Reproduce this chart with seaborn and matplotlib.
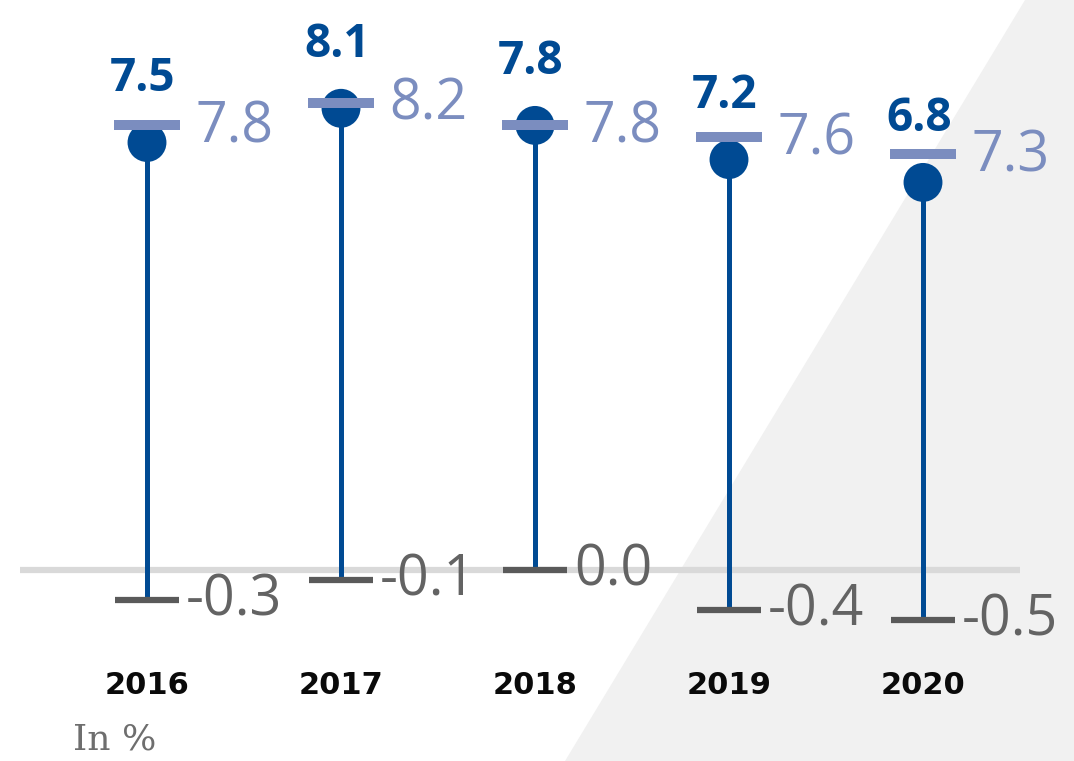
import numpy as np
import pandas as pd
import matplotlib
matplotlib.use("Agg")
import matplotlib.pyplot as plt
import seaborn as sns
from matplotlib.patches import Polygon
import matplotlib.transforms as mtransforms

years = ["2016", "2017", "2018", "2019", "2020"]
actual = [7.5, 8.1, 7.8, 7.2, 6.8]
forecast = [7.8, 8.2, 7.8, 7.6, 7.3]
lower = [-0.3, -0.1, 0.0, -0.4, -0.5]

DARK = "#004A93"
LIGHT = "#7B8DBF"
GREY = "#5A5A5A"
GREY_TXT = "#636363"

sns.set_theme(style="white")
plt.rcParams["font.family"] = ["Open Sans", "DejaVu Sans"]

fig = plt.figure(figsize=(10.74, 7.61), dpi=100)
fig.patch.set_facecolor("white")
fig.patches.append(Polygon([(565/1074, 0), (1025/1074, 1), (1, 1), (1, 0)],
                           closed=True, transform=fig.transFigure,
                           facecolor="#F1F1F1", edgecolor="none", zorder=-5))
ax = fig.add_axes([0, 0, 1, 1])
ax.set_facecolor("none")
ax.patch.set_alpha(0)

k = 1.75
def fwd(v):
    v = np.asarray(v, dtype=float)
    return np.where(v >= 0, v, k * v)
def inv(v):
    v = np.asarray(v, dtype=float)
    return np.where(v >= 0, v, v / k)
ax.set_yscale("function", functions=(fwd, inv))

x = np.arange(len(years))
df = pd.DataFrame({"x": x, "actual": actual, "forecast": forecast, "lower": lower})

ax.hlines(0, -0.655, 4.5, color="#D9D9D9", lw=4.5, zorder=1)
ax.vlines(df["x"], df["lower"], df["actual"], color=DARK, lw=3.6, zorder=2)
ax.plot(df["x"], df["lower"], ls="none", marker="_", ms=46, mew=4.5, color=GREY, zorder=3)
sns.scatterplot(data=df, x="x", y="actual", ax=ax, s=28**2, color=DARK,
                edgecolor="none", zorder=4, legend=False)
ax.plot(df["x"], df["forecast"], ls="none", marker="_", ms=47, mew=7.2, color=LIGHT, zorder=5)

for xi, a, f, lo in zip(x, actual, forecast, lower):
    ax.annotate(f"{a:.1f}", (xi, a), xytext=(-3, 29), textcoords="offset points",
                ha="center", va="bottom", fontsize=33, fontweight="bold", color=DARK)
    ax.annotate(f"{f:.1f}", (xi, f), xytext=(35, -2), textcoords="offset points",
                ha="left", va="center", fontsize=40, color=LIGHT)
    ax.annotate(f"{lo:.1f}", (xi, lo), xytext=(28, -1), textcoords="offset points",
                ha="left", va="center", fontsize=40, color=GREY_TXT)

trans = mtransforms.blended_transform_factory(ax.transData, ax.transAxes)
for xi, yr in zip(x, years):
    ax.text(xi, 1 - 685/761, yr, transform=trans, ha="center", va="center",
            fontsize=22, fontweight="bold", color="#0A0A0A", family="DejaVu Sans")

ax.text(73/1074, 1 - 740/761, "In %", transform=ax.transAxes, ha="left", va="center",
        fontsize=26, color="#6E6E6E", family="DejaVu Serif")

ax.set_xlim(-147/194, (1074-147)/194)
ax.set_ylim(-3.35/k, 10.0)
ax.set_axis_off()

fig.savefig("out.png", dpi=100)
